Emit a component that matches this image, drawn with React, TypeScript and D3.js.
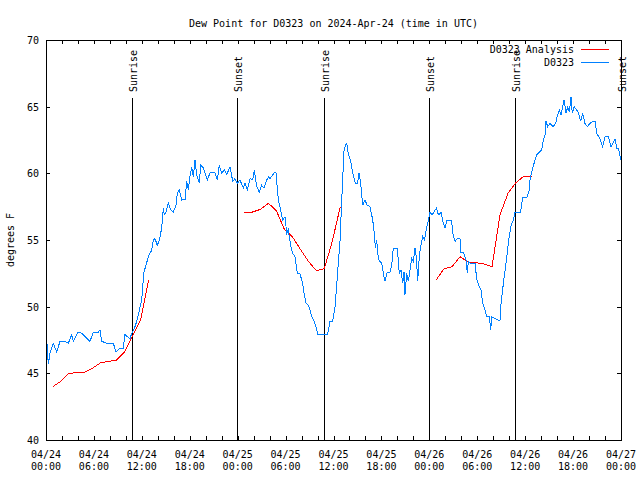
import React from "react";
import * as d3 from "d3";

// Observations: [hours since 04/24 00:00 UTC, dew point °F]
const obsHours = [
  0.09, 0.29, 0.5, 0.91, 1.34, 1.75, 2.38, 2.79, 3.22, 3.42, 4.04, 4.47, 4.88, 5.51, 5.92, 6.55, 6.76, 6.98, 7.6, 8.43,
  8.77, 9.27, 9.68, 9.89, 10.52, 10.73, 11.14, 11.36, 11.56, 11.98, 12.18, 12.27, 12.52, 12.81, 13.24, 13.44, 13.65, 13.94, 14.19, 14.49,
  14.69, 14.81, 15.03, 15.31, 15.61, 15.94, 16.28, 16.44, 16.69, 16.99, 17.41, 17.62, 17.82, 18.03, 18.24, 18.44, 18.66, 18.87, 19.2, 19.37,
  19.7, 20.2, 20.54, 21.16, 21.45, 21.7, 22.0, 22.33, 22.63, 23.04, 23.38, 23.67, 23.95, 24.29, 24.71, 24.92, 25.21, 25.55, 25.88, 26.08,
  26.38, 26.71, 27.01, 27.3, 27.63, 27.89, 28.05, 28.59, 28.8, 29.09, 29.39, 29.64, 29.93, 30.14, 30.34, 30.64, 30.89, 31.18, 31.47, 31.81,
  32.14, 32.31, 32.56, 32.85, 33.06, 33.27, 33.56, 33.81, 34.02, 35.27, 35.56, 35.9, 36.19, 36.48, 36.82, 37.03, 37.32, 37.65, 37.85, 38.16,
  38.41, 38.73, 39.01, 39.19, 39.38, 39.66, 39.94, 40.23, 40.57, 40.91, 41.11, 41.24, 41.41, 41.61, 41.82, 42.04, 42.24, 42.45, 42.74, 43.08,
  43.29, 43.49, 43.99, 44.24, 44.45, 44.67, 44.83, 44.95, 45.17, 45.37, 45.58, 45.79, 45.99, 46.21, 46.39, 46.54, 46.74, 46.92, 47.17, 47.4,
  47.67, 47.87, 48.08, 48.3, 48.5, 48.71, 48.92, 49.06, 49.25, 49.46, 49.75, 49.96, 50.18, 50.8, 50.93, 51.22, 51.5, 51.84, 51.93, 52.25,
  52.59, 52.76, 52.88, 53.18, 53.72, 53.93, 54.26, 54.47, 54.68, 54.97, 55.18, 55.51, 55.69, 55.81, 56.56, 56.85, 56.94, 57.27, 57.6, 57.89,
  58.19, 58.52, 58.73, 59.42, 59.69, 60.23, 60.52, 60.61, 60.82, 61.23, 61.45, 61.77, 62.07, 62.27, 62.49, 62.61, 62.82, 63.11, 63.52, 63.83,
  64.03, 64.28, 64.49, 64.7, 64.87, 65.12, 65.33, 65.53, 65.74, 65.9, 66.12, 66.37, 66.65, 66.95, 67.2, 67.49, 67.78, 68.12, 68.46, 68.75,
  68.96, 69.37, 69.71, 70.0, 70.41, 70.75, 71.04, 71.25, 71.46, 71.69, 71.96,
];
const obsValues = [
  47.5, 45.7, 46.5, 47.25, 46.6, 47.4, 47.4, 47.25, 47.9, 47.4, 48.1, 48.0, 47.75, 47.4, 48.1, 48.1, 48.25, 47.4, 47.25, 47.25,
  46.6, 46.9, 46.9, 47.9, 47.6, 48.0, 48.5, 48.9, 49.4, 50.5, 52.0, 52.6, 53.1, 53.75, 54.25, 55.0, 55.1, 54.6, 55.0, 55.9,
  57.4, 56.9, 57.1, 57.8, 57.25, 57.1, 57.6, 58.5, 58.75, 58.0, 58.05, 59.4, 58.75, 59.75, 60.5, 59.75, 61.0, 59.9, 59.25, 60.6,
  60.4, 59.5, 60.05, 60.05, 59.5, 60.6, 60.0, 60.25, 59.9, 60.5, 59.4, 59.6, 59.25, 59.5, 58.9, 59.3, 58.75, 59.6, 59.5, 60.25,
  59.0, 58.6, 59.1, 58.9, 59.5, 59.75, 59.6, 60.05, 60.05, 58.0, 57.25, 56.5, 56.75, 55.5, 55.75, 54.6, 54.0, 53.75, 52.5, 52.45,
  51.75, 51.0, 50.25, 50.1, 49.75, 49.25, 48.9, 48.5, 47.95, 47.95, 48.9, 48.9, 50.0, 52.25, 55.0, 58.0, 61.75, 62.3, 61.5, 60.9,
  60.0, 59.25, 59.25, 60.0, 59.4, 57.6, 58.0, 57.6, 57.5, 56.5, 55.5, 54.4, 55.0, 53.6, 53.4, 53.25, 52.5, 51.9, 52.6, 52.6,
  53.1, 54.4, 54.4, 52.5, 52.75, 51.75, 52.6, 50.9, 52.5, 51.9, 52.75, 53.6, 53.4, 54.4, 53.6, 51.9, 53.75, 54.5, 55.25, 55.0,
  56.0, 56.4, 57.1, 56.9, 57.0, 57.25, 57.4, 57.0, 56.9, 57.1, 56.25, 55.9, 56.45, 56.45, 55.5, 54.9, 55.1, 55.1, 54.1, 54.1,
  53.5, 52.5, 53.4, 53.25, 53.25, 52.1, 51.5, 51.25, 50.25, 49.75, 49.25, 49.25, 48.25, 49.25, 49.0, 49.0, 50.0, 51.75, 53.25, 54.75,
  56.0, 56.5, 57.1, 57.1, 58.2, 58.2, 58.75, 59.5, 60.1, 61.0, 61.4, 61.6, 61.75, 62.5, 62.9, 63.9, 63.5, 63.75, 63.5, 63.8,
  64.3, 64.75, 64.4, 65.0, 65.5, 64.5, 65.0, 64.6, 65.75, 64.5, 65.0, 64.8, 64.6, 63.9, 64.5, 63.75, 63.5, 63.75, 63.9, 63.9,
  63.0, 62.6, 62.0, 62.75, 62.75, 62.0, 62.3, 62.6, 61.9, 61.9, 61.0,
];

// Analysis runs (hourly), three 12-hour segments
const analysisStart = [0.85, 24.85, 48.85];
const analysisValues = [
  [44.0, 44.4, 45.0, 45.05, 45.1, 45.4, 45.8, 45.9, 46.0, 46.6, 47.8, 49.0, 52.0],
  [57.1, 57.1, 57.3, 57.75, 57.2, 55.8, 55.25, 54.3, 53.4, 52.7, 52.85, 54.9, 57.5],
  [52.0, 52.85, 53.0, 53.75, 53.35, 53.3, 53.2, 53.0, 56.9, 58.5, 59.3, 59.8, 59.8],
];

// Sun events (hours since 04/24 00:00 UTC)
const eventNames = ["Sunrise", "Sunset", "Sunrise", "Sunset", "Sunrise", "Sunset"];
const eventHours = [10.77, 23.92, 34.81, 47.96, 58.73, 72.0];

const xTickHours = [0, 6, 12, 18, 24, 30, 36, 42, 48, 54, 60, 66, 72];
const xTickDates = ["04/24", "04/24", "04/24", "04/24", "04/25", "04/25", "04/25", "04/25", "04/26", "04/26", "04/26", "04/26", "04/27"];
const xTickTimes = ["00:00", "06:00", "12:00", "18:00", "00:00", "06:00", "12:00", "18:00", "00:00", "06:00", "12:00", "18:00", "00:00"];
const yTicks = [40, 45, 50, 55, 60, 65, 70];

const title = "Dew Point for D0323 on 2024-Apr-24 (time in UTC)";
const yLabel = "degrees F";
const legendNames = ["D0323 Analysis", "D0323"];

const RED = "#ff0000";
const BLUE = "#0080ff";

export default function App() {
  const W = 640, H = 480;
  const L = 46, R = 621, T = 40, B = 440;
  const x = d3.scaleLinear().domain([0, 72]).range([L, R]);
  const y = d3.scaleLinear().domain([40, 70]).range([B, T]);
  const font = "'DejaVu Sans Mono', monospace";

  const obs: [number, number][] = obsHours.map((h, i) => [h, obsValues[i]]);
  const line = d3.line<[number, number]>().x((d) => x(d[0])).y((d) => y(d[1]));
  const minorTicks = d3.range(0, 73, 2);

  return (
    <svg width={W} height={H} style={{ position: "absolute", left: 0, top: 0, background: "#fff" }}
      fontFamily={font} fontSize={10}>
      <rect x={0} y={0} width={W} height={H} fill="#fff" />
      <text x={(L + R) / 2} y={27} textAnchor="middle">{title}</text>
      <text transform={`translate(14,${(T + B) / 2}) rotate(-90)`} textAnchor="middle">{yLabel}</text>

      {/* ticks */}
      <g stroke="#000" shapeRendering="crispEdges">
        {minorTicks.map((h) => (
          <g key={"xt" + h}>
            <line x1={Math.round(x(h)) + 0.5} x2={Math.round(x(h)) + 0.5} y1={B} y2={B - 4} />
            <line x1={Math.round(x(h)) + 0.5} x2={Math.round(x(h)) + 0.5} y1={T} y2={T + 4} />
          </g>
        ))}
        {yTicks.map((v) => (
          <g key={"yt" + v}>
            <line x1={L} x2={L + 4} y1={Math.round(y(v)) + 0.5} y2={Math.round(y(v)) + 0.5} />
            <line x1={R} x2={R - 4} y1={Math.round(y(v)) + 0.5} y2={Math.round(y(v)) + 0.5} />
          </g>
        ))}
      </g>
      {yTicks.map((v) => (
        <text key={"yl" + v} x={39} y={y(v) + 4} textAnchor="end">{v}</text>
      ))}
      {xTickHours.map((h, i) => (
        <g key={"xl" + h}>
          <text x={x(h)} y={458} textAnchor="middle">{xTickDates[i]}</text>
          <text x={x(h)} y={470} textAnchor="middle">{xTickTimes[i]}</text>
        </g>
      ))}

      {/* sun events */}
      {eventHours.map((h, i) => (
        <g key={"ev" + i}>
          <line x1={Math.round(x(h)) + 0.5} x2={Math.round(x(h)) + 0.5} y1={98} y2={B} stroke="#000" shapeRendering="crispEdges" />
          <text transform={`translate(${x(h) + 5},92) rotate(-90)`} textAnchor="start">{eventNames[i]}</text>
        </g>
      ))}

      {/* data */}
      {analysisValues.map((vals, k) => {
        const pts: [number, number][] = vals.map((v, j) => [analysisStart[k] + j, v]);
        return <path key={"an" + k} d={line(pts) || ""} fill="none" stroke={RED} strokeWidth={1} shapeRendering="crispEdges" />;
      })}
      <path d={line(obs) || ""} fill="none" stroke={BLUE} strokeWidth={1} shapeRendering="crispEdges" />

      {/* legend */}
      <text x={574} y={53} textAnchor="end">{legendNames[0]}</text>
      <line x1={581} x2={609} y1={49.5} y2={49.5} stroke={RED} shapeRendering="crispEdges" />
      <text x={574} y={66} textAnchor="end">{legendNames[1]}</text>
      <line x1={581} x2={609} y1={62.5} y2={62.5} stroke={BLUE} shapeRendering="crispEdges" />

      <rect x={L + 0.5} y={T + 0.5} width={R - L} height={B - T} fill="none" stroke="#000" shapeRendering="crispEdges" />
    </svg>
  );
}
